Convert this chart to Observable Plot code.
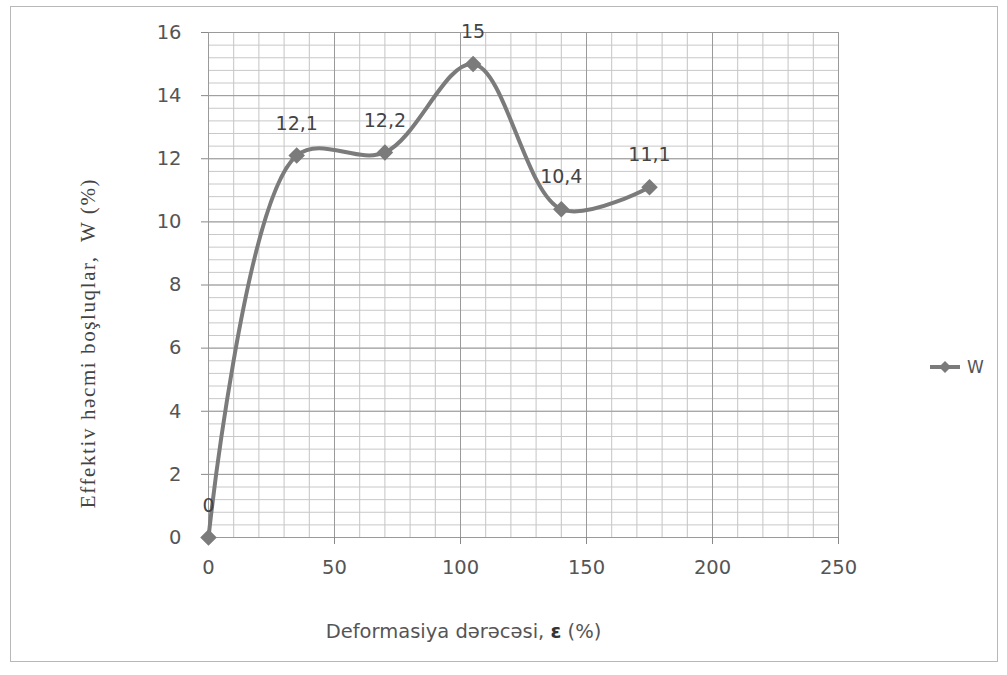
<!DOCTYPE html>
<html>
<head>
<meta charset="utf-8">
<script src="https://cdn.jsdelivr.net/npm/d3@7"></script>
<script src="https://cdn.jsdelivr.net/npm/@observablehq/plot@0.6"></script>
<style>
  html, body { margin: 0; padding: 0; background: #fff; }
  #wrap { position: relative; width: 1007px; height: 675px; overflow: hidden; }
  #border { position: absolute; left: 10px; top: 6px; width: 988px; height: 656px; border: 1px solid #b8b8b8; box-sizing: border-box; }
  #chart { position: absolute; left: 0; top: 0; }
  #legend { position: absolute; left: 928px; top: 357px; display: flex; align-items: center; font: 17px "DejaVu Sans", sans-serif; color: #555; }
  #legend svg { margin-right: 5px; }
</style>
</head>
<body>
<div id="wrap">
  <div id="border"></div>
  <div id="chart"></div>
  <div id="legend">
    <svg width="34" height="20"><line x1="2" y1="10" x2="32" y2="10" stroke="#7b7b7b" stroke-width="4"/><path d="M17,4 L23,10 L17,16 L11,10 Z" fill="#7b7b7b"/></svg>
    <span>W</span>
  </div>
</div>
<script>
// Deformation degree ε (%) and effective void volume W (%)
const deformation = [0, 35, 70, 105, 140, 175];
const voidVolume = [0, 12.1, 12.2, 15, 10.4, 11.1];
const xTicks = [0, 50, 100, 150, 200, 250];
const yTicks = [0, 2, 4, 6, 8, 10, 12, 14, 16];

const xLabelStart = "Deformasiya dərəcəsi, ";
const xLabelSymbol = "ε";
const xLabelEnd = " (%)";
const yLabel = "Effektiv həcmi boşluqlar,  W (%)";

const data = deformation.map((e, i) => ({e, w: voidVolume[i]}));
const fmt = v => String(v).replace(".", ",");

const lineColor = "#7b7b7b";
const sans = "'DejaVu Sans', Verdana, sans-serif";

const chart = Plot.plot({
  width: 1007,
  height: 675,
  marginLeft: 208,
  marginRight: 169,
  marginTop: 32,
  marginBottom: 138,
  style: {background: "transparent", fontFamily: sans},
  x: {domain: [0, 250]},
  y: {domain: [0, 16]},
  marks: [
    // minor grid
    Plot.gridX(d3.range(0, 251, 10), {stroke: "#c4c4c4", strokeOpacity: 1, strokeWidth: 1}),
    Plot.gridY(d3.range(0, 16.01, 0.4), {stroke: "#c8c8c8", strokeOpacity: 1, strokeWidth: 1}),
    // major grid
    Plot.gridX(xTicks, {stroke: "#9a9a9a", strokeOpacity: 1, strokeWidth: 1}),
    Plot.gridY(yTicks, {stroke: "#9a9a9a", strokeOpacity: 1, strokeWidth: 1}),
    Plot.axisX(xTicks, {tickSize: 7, tickPadding: 16, stroke: "#888", fill: "#555", fontSize: 19.5, label: null}),
    Plot.axisY(yTicks, {tickSize: 7, tickPadding: 20, stroke: "#888", fill: "#555", fontSize: 19.5, label: null}),
    Plot.line(data, {x: "e", y: "w", curve: "catmull-rom", stroke: lineColor, strokeWidth: 4}),
    Plot.dot(data, {x: "e", y: "w", symbol: "diamond2", r: 6.5, fill: lineColor, stroke: lineColor}),
    Plot.text(data, {x: "e", y: "w", text: d => fmt(d.w), dy: -32, fill: "#444", fontSize: 19}),
    // axis titles
    Plot.text([xLabelStart + xLabelSymbol + xLabelEnd], {frameAnchor: "bottom", dx: -60, dy: 100, text: d => d,
      fill: "#555", fontSize: 19.5}),
    Plot.text([yLabel], {frameAnchor: "left", textAnchor: "middle", dx: -120, dy: 58, rotate: -90, text: d => d,
      fill: "#444", fontSize: 21, fontFamily: "'Liberation Serif', 'Times New Roman', serif"})
  ]
});

// Wide tracking on the vertical title; bold epsilon in the horizontal title
const svg = d3.select(chart);
svg.selectAll("text").filter(function() { return this.textContent === yLabel; })
  .attr("letter-spacing", "1.6px");
svg.selectAll("text").filter(function() { return this.textContent === xLabelStart + xLabelSymbol + xLabelEnd; })
  .each(function() {
    const t = d3.select(this);
    t.text(null);
    t.append("tspan").text(xLabelStart);
    t.append("tspan").attr("font-weight", "bold").attr("fill", "#333").text(xLabelSymbol);
    t.append("tspan").text(xLabelEnd);
  });

document.getElementById("chart").appendChild(chart);
</script>
</body>
</html>
